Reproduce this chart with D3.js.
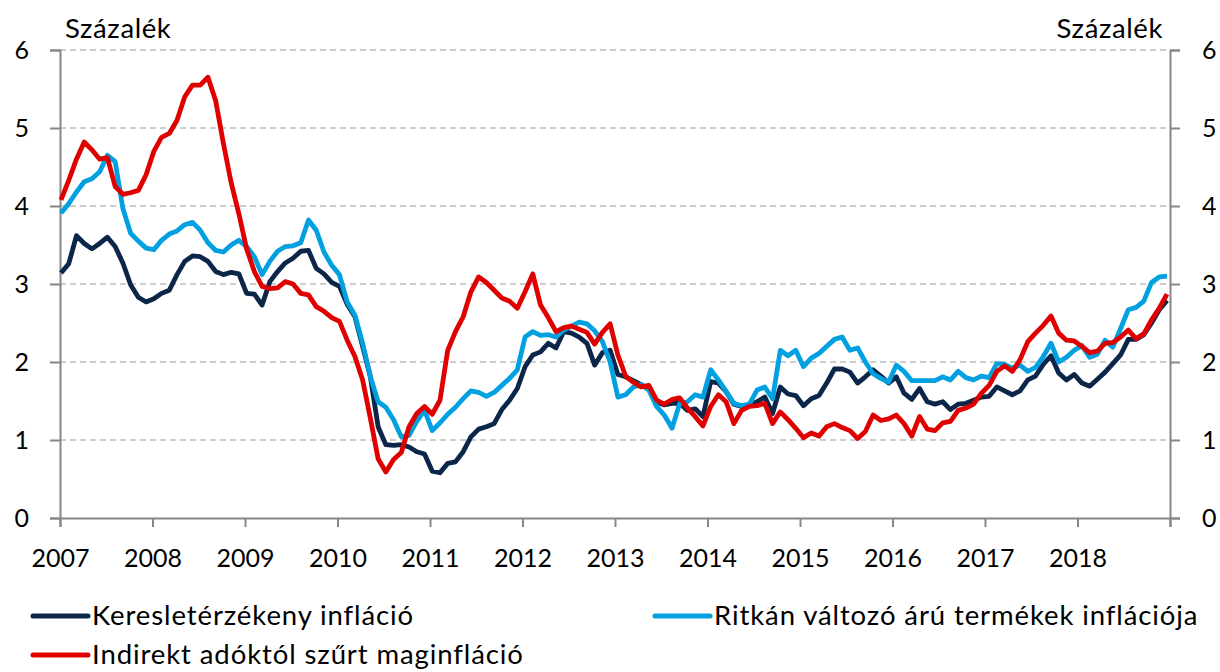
<!DOCTYPE html>
<html><head><meta charset="utf-8">
<script src="https://cdn.jsdelivr.net/npm/d3@7"></script>
<style>
body{margin:0;background:#fff;}
text{font-family:Lato,"Open Sans","Liberation Sans",sans-serif;fill:#000;}
</style></head>
<body><svg id="c" width="1220" height="672"></svg>
<script>
const years = ["2007","2008","2009","2010","2011","2012","2013","2014","2015","2016","2017","2018"];
const yTicks = [0,1,2,3,4,5,6];
const seriesNames = ["Keresletérzékeny infláció","Ritkán változó árú termékek inflációja","Indirekt adóktól szűrt maginfláció"];
const seriesColors = ["#0b2649","#00a0e1","#e00000"];

const demand = [3.14,3.26,3.62,3.52,3.45,3.52,3.60,3.48,3.27,2.99,2.83,2.77,2.81,2.88,2.92,3.12,3.29,3.36,3.35,3.29,3.16,3.12,3.15,3.13,2.88,
 2.87,2.73,3.03,3.16,3.27,3.33,3.42,3.43,3.20,3.13,3.02,2.97,2.74,2.58,2.20,1.81,1.17,0.94,0.93,0.94,0.91,0.85,0.82,
 0.60,0.58,0.70,0.72,0.85,1.04,1.14,1.17,1.21,1.39,1.51,1.66,1.94,2.09,2.13,2.24,2.18,2.39,2.37,2.32,2.24,1.96,2.12,2.15,1.84,
 1.81,1.76,1.71,1.65,1.49,1.45,1.47,1.47,1.38,1.40,1.30,1.75,1.73,1.62,1.46,1.43,1.45,1.49,1.55,1.34,1.68,1.59,1.57,1.44,
 1.53,1.57,1.73,1.91,1.91,1.87,1.73,1.81,1.90,1.82,1.73,1.81,1.60,1.52,1.66,1.49,1.46,1.49,1.39,1.46,1.47,1.51,1.55,1.56,
 1.68,1.63,1.58,1.63,1.77,1.82,1.97,2.08,1.86,1.77,1.84,1.73,1.69,1.78,1.87,1.98,2.09,2.29,2.29,2.35,2.50,2.67,2.79];

const sticky = [3.91,4.03,4.18,4.31,4.35,4.44,4.65,4.57,3.97,3.65,3.55,3.46,3.44,3.56,3.64,3.68,3.76,3.79,3.69,3.53,3.43,3.41,3.50,3.56,3.48,
 3.35,3.12,3.29,3.42,3.48,3.49,3.53,3.82,3.69,3.41,3.24,3.12,2.77,2.60,2.24,1.81,1.49,1.42,1.26,1.04,1.06,1.24,1.38,
 1.12,1.22,1.33,1.42,1.53,1.63,1.61,1.56,1.61,1.70,1.79,1.90,2.32,2.39,2.34,2.35,2.32,2.41,2.46,2.51,2.49,2.40,2.26,2.00,1.55,
 1.58,1.68,1.71,1.64,1.43,1.32,1.15,1.47,1.49,1.58,1.55,1.90,1.77,1.62,1.47,1.44,1.46,1.64,1.68,1.53,2.15,2.08,2.15,1.94,
 2.05,2.11,2.20,2.29,2.32,2.15,2.18,2.00,1.85,1.79,1.74,1.96,1.88,1.76,1.76,1.76,1.76,1.81,1.77,1.88,1.80,1.77,1.82,1.80,
 1.98,1.97,1.92,1.96,1.88,1.93,2.07,2.24,2.00,2.06,2.15,2.21,2.06,2.10,2.28,2.19,2.43,2.67,2.70,2.78,3.02,3.09,3.10];

const core = [4.08,4.33,4.60,4.82,4.72,4.60,4.62,4.25,4.15,4.17,4.20,4.40,4.70,4.88,4.93,5.10,5.40,5.55,5.55,5.65,5.35,4.80,4.30,3.90,3.45,
 3.16,2.97,2.94,2.95,3.03,3.00,2.88,2.86,2.71,2.65,2.57,2.52,2.28,2.07,1.77,1.28,0.76,0.59,0.75,0.84,1.17,1.34,1.43,
 1.33,1.51,2.15,2.39,2.58,2.90,3.09,3.02,2.92,2.82,2.78,2.69,2.90,3.13,2.73,2.57,2.39,2.44,2.46,2.42,2.38,2.23,2.38,2.49,2.09,
 1.82,1.74,1.68,1.70,1.51,1.46,1.52,1.54,1.41,1.30,1.18,1.43,1.58,1.49,1.21,1.38,1.43,1.44,1.47,1.21,1.36,1.26,1.15,1.03,
 1.09,1.05,1.17,1.21,1.16,1.12,1.02,1.11,1.32,1.25,1.27,1.32,1.21,1.05,1.30,1.14,1.12,1.22,1.24,1.38,1.41,1.46,1.60,1.70,
 1.88,1.95,1.88,2.03,2.26,2.37,2.47,2.59,2.37,2.28,2.27,2.20,2.12,2.14,2.24,2.25,2.32,2.41,2.30,2.36,2.54,2.69,2.87];

const svg = d3.select("#c");
const L = 60, R = 1170, T = 50, B = 518;
const xYear = d3.scaleLinear().domain([0, years.length]).range([L, R]);
const xMonth = d3.scaleLinear().domain([0, demand.length - 1]).range([L + 1, R - 3]);
const y = d3.scaleLinear().domain([0, 6]).range([B, T]);

// gridlines
svg.append("g").selectAll("line").data(yTicks.filter(d => d > 0)).join("line")
  .attr("x1", L).attr("x2", R).attr("y1", d => y(d)).attr("y2", d => y(d))
  .attr("stroke", "#bfbfbf").attr("stroke-width", 1.5).attr("stroke-dasharray", "6,4");

const axisColor = "#868686";
const gl = svg.append("g").attr("transform", `translate(${L},0)`)
  .call(d3.axisLeft(y).tickValues(yTicks).tickSize(10).tickFormat(d3.format("d")));
const gr = svg.append("g").attr("transform", `translate(${R},0)`)
  .call(d3.axisRight(y).tickValues(yTicks).tickSize(10).tickFormat(d3.format("d")));
const gb = svg.append("g").attr("transform", `translate(0,${B})`)
  .call(d3.axisBottom(xYear).tickValues(d3.range(0, years.length + 1)).tickSize(9)
    .tickFormat(i => years[i] || ""));
[gl, gr, gb].forEach(g => {
  g.select(".domain").attr("stroke", axisColor).attr("stroke-width", 2);
  g.selectAll(".tick line").attr("stroke", axisColor).attr("stroke-width", 2);
  g.selectAll(".tick text").attr("font-size", 25).attr("fill", "#000")
    .style("font-family", "Lato, 'Open Sans', sans-serif");
});
gl.selectAll(".tick text").attr("x", -31);
gr.selectAll(".tick text").attr("text-anchor", "start").attr("x", 32);
gb.selectAll(".tick text").attr("y", 49).attr("dy", 0);

// unit labels
svg.append("text").attr("x", 65).attr("y", 38).attr("font-size", 27.5).attr("letter-spacing", 0.6).text("Százalék");
svg.append("text").attr("x", 1163).attr("y", 38).attr("font-size", 27.5).attr("letter-spacing", 0.6).attr("text-anchor", "end").text("Százalék");

// lines
const series = [demand, sticky, core];
const line = d3.line().x((d, i) => xMonth(i)).y(d => y(d));
svg.append("g").selectAll("path").data(series).join("path")
  .attr("d", line).attr("fill", "none")
  .attr("stroke", (d, i) => seriesColors[i]).attr("stroke-width", 4.8)
  .attr("stroke-linejoin", "round");

// legend
const legendPos = [[33, 616], [655, 616], [33, 655]];
const lg = svg.append("g").selectAll("g").data(seriesNames).join("g")
  .attr("transform", (d, i) => `translate(${legendPos[i][0]},${legendPos[i][1]})`);
lg.append("line").attr("x1", 0).attr("x2", 55).attr("y1", 0).attr("y2", 0)
  .attr("stroke", (d, i) => seriesColors[i]).attr("stroke-width", 5).attr("stroke-linecap", "round");
lg.append("text").attr("x", 59).attr("y", 9).attr("font-size", 27.5).attr("letter-spacing", 0.9).text(d => d);
</script></body></html>
